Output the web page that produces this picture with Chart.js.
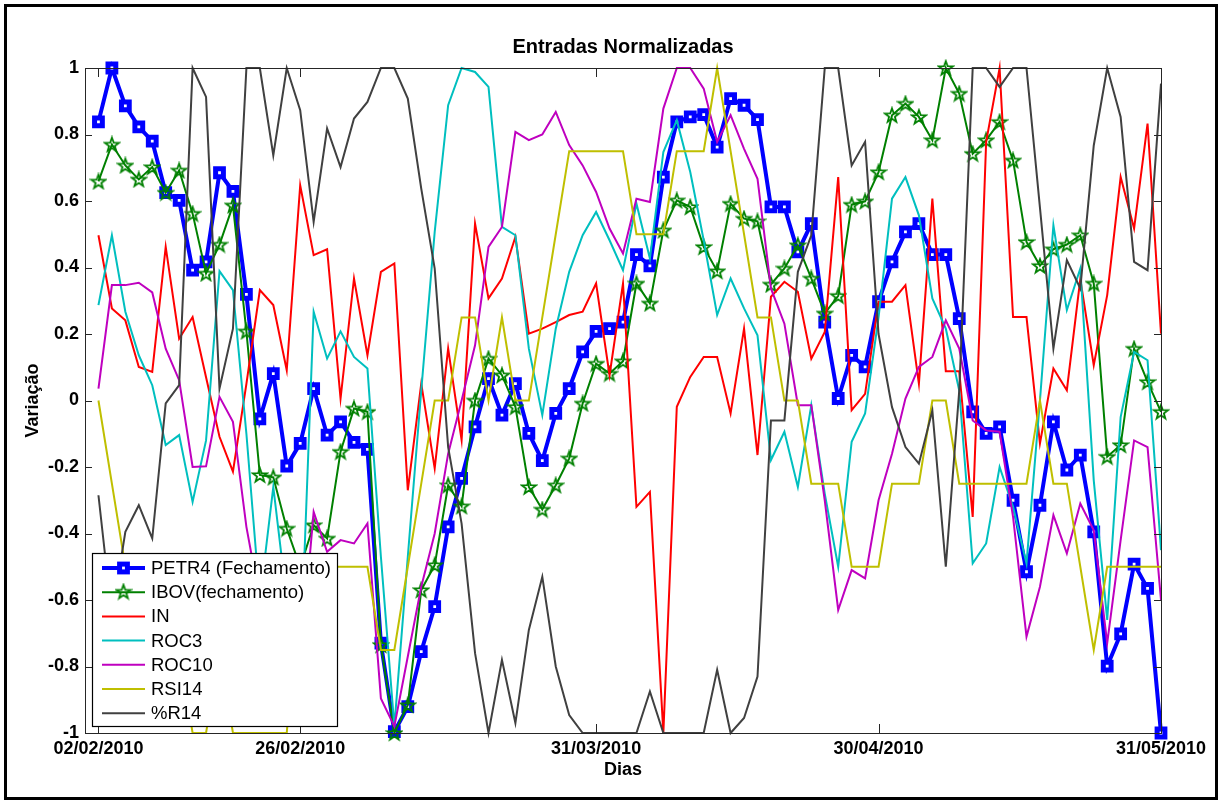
<!DOCTYPE html>
<html>
<head>
<meta charset="utf-8">
<title>Entradas Normalizadas</title>
<script src="https://cdn.jsdelivr.net/npm/chart.js@4.4.1/dist/chart.umd.min.js"></script>
<style>
  html, body { margin: 0; padding: 0; background: #fff; }
  canvas { display: block; }
</style>
</head>
<body>
<canvas id="entradas" width="1222" height="804"></canvas>
<script>
// x = dia de pregão (1..80), ticks with the dates shown on the axis
const tickDias = [1, 16, 38, 59, 80];
const tickLabels = ["02/02/2010", "26/02/2010", "31/03/2010", "30/04/2010", "31/05/2010"];
const yTicks = [-1, -0.8, -0.6, -0.4, -0.2, 0, 0.2, 0.4, 0.6, 0.8, 1];

const petr4 = [0.838, 1.0, 0.886, 0.823, 0.78, 0.625, 0.602, 0.392, 0.417, 0.685,
  0.629, 0.319, -0.055, 0.081, -0.197, -0.129, 0.036, -0.104, -0.064, -0.126,
  -0.147, -0.73, -0.996, -0.921, -0.755, -0.62, -0.38, -0.234, -0.079, 0.066,
  -0.044, 0.051, -0.099, -0.181, -0.039, 0.036, 0.146, 0.208, 0.216, 0.236,
  0.439, 0.405, 0.672, 0.838, 0.853, 0.86, 0.762, 0.908, 0.888, 0.845,
  0.582, 0.582, 0.447, 0.532, 0.236, 0.006, 0.136, 0.101, 0.297, 0.417,
  0.507, 0.532, 0.439, 0.439, 0.246, -0.034, -0.099, -0.079, -0.30, -0.515,
  -0.315, -0.064, -0.209, -0.164, -0.395, -0.799, -0.702, -0.492, -0.565, -1.0];

const ibov = [0.659, 0.77, 0.707, 0.665, 0.702, 0.625, 0.692, 0.562, 0.382, 0.469,
  0.587, 0.208, -0.224, -0.231, -0.385, -0.50, -0.375, -0.415, -0.154, -0.024,
  -0.034, -0.735, -1.0, -0.916, -0.57, -0.495, -0.255, -0.318, 0.0, 0.126,
  0.076, -0.019, -0.26, -0.328, -0.255, -0.174, -0.009, 0.111, 0.081, 0.118,
  0.352, 0.292, 0.512, 0.602, 0.582, 0.462, 0.389, 0.592, 0.547, 0.539,
  0.349, 0.397, 0.467, 0.367, 0.262, 0.315, 0.589, 0.599, 0.687, 0.858,
  0.893, 0.853, 0.783, 1.0, 0.923, 0.742, 0.783, 0.838, 0.722, 0.477,
  0.405, 0.455, 0.469, 0.497, 0.352, -0.169, -0.134, 0.156, 0.056, -0.034];

const inSerie = [0.497, 0.277, 0.241, 0.101, 0.086, 0.462, 0.186, 0.251, 0.07, -0.109,
  -0.214, 0.05, 0.332, 0.287, 0.091, 0.647, 0.437, 0.455, 0.006, 0.367,
  0.136, 0.387, 0.412, -0.27, 0.051, -0.204, 0.156, -0.119, 0.532, 0.307,
  0.367, 0.492, 0.201, 0.216, 0.236, 0.257, 0.267, 0.352, 0.076, 0.352,
  -0.32, -0.275, -1.0, -0.019, 0.071, 0.131, 0.131, -0.039, 0.216, -0.164,
  0.312, 0.357, 0.327, 0.126, 0.206, 0.672, -0.029, 0.02, 0.297, 0.297,
  0.347, 0.051, 0.607, 0.088, 0.088, -0.35, 0.778, 1.0, 0.251, 0.251,
  -0.129, 0.096, 0.031, 0.365, 0.106, 0.317, 0.672, 0.517, 0.833, 0.201];

const roc3 = [0.287, 0.497, 0.267, 0.136, 0.046, -0.134, -0.104, -0.305, -0.12, 0.389,
  0.332, -0.1, -0.6, -0.26, -0.6, -0.8, 0.267, 0.126, 0.208, 0.131,
  0.096, -0.47, -0.98, -0.47, 0.03, 0.507, 0.888, 1.0, 0.988, 0.943,
  0.522, 0.497, 0.156, -0.044, 0.216, 0.387, 0.497, 0.567, 0.482, 0.392,
  0.592, 0.427, 0.747, 0.843, 0.687, 0.482, 0.257, 0.367, 0.277, 0.196,
  -0.179, -0.094, -0.26, -0.014, -0.28, -0.5, -0.124, -0.039, 0.25, 0.607,
  0.672, 0.557, 0.307, 0.216, 0.03, -0.49, -0.43, -0.2, -0.32, -0.49,
  0.0, 0.527, 0.272, 0.397, -0.24, -0.66, -0.05, 0.146, 0.121, -0.45];

const roc10 = [0.036, 0.347, 0.347, 0.354, 0.325, 0.156, 0.061, -0.2, -0.198, 0.011,
  -0.064, -0.38, -0.6, -0.7, -0.75, -0.8, -0.335, -0.455, -0.42, -0.43,
  -0.37, -0.896, -0.98, -0.77, -0.56, -0.40, -0.16, 0.0, 0.166, 0.462,
  0.522, 0.808, 0.783, 0.80, 0.868, 0.768, 0.707, 0.627, 0.517, 0.442,
  0.607, 0.597, 0.878, 1.0, 1.0, 0.938, 0.778, 0.858, 0.757, 0.667,
  0.337, 0.231, -0.014, -0.014, -0.3, -0.63, -0.51, -0.535, -0.3, -0.16,
  0.006, 0.101, 0.131, 0.241, 0.156, -0.06, -0.09, -0.094, -0.35, -0.71,
  -0.56, -0.345, -0.46, -0.31, -0.39, -0.73, -0.42, -0.12, -0.14, -0.60];

const rsi14 = [0, -0.25, -0.5, -0.5, -0.5, -0.75, -0.75, -1, -1, -0.75,
  -1, -1, -1, -1, -1, -0.5, -0.5, -0.5, -0.5, -0.5,
  -0.5, -0.75, -0.75, -0.5, -0.25, 0, 0, 0.25, 0.25, 0,
  0.25, 0, 0, 0.25, 0.5, 0.75, 0.75, 0.75, 0.75, 0.75,
  0.5, 0.5, 0.5, 0.75, 0.75, 0.75, 1.0, 0.75, 0.5, 0.25,
  0.25, 0, 0, -0.25, -0.25, -0.25, -0.5, -0.5, -0.5, -0.25,
  -0.25, -0.25, 0, 0, -0.25, -0.25, -0.25, -0.25, -0.25, -0.25,
  0, -0.25, -0.25, -0.5, -0.75, -0.5, -0.5, -0.5, -0.5, -0.5];

const r14 = [-0.285, -0.65, -0.395, -0.315, -0.415, -0.009, 0.046, 1.0, 0.913, 0.036,
  0.216, 1.0, 1.0, 0.737, 1.0, 0.873, 0.537, 0.818, 0.702, 0.848,
  0.898, 1.0, 1.0, 0.908, 0.637, 0.397, -0.14, -0.37, -0.76, -1.0,
  -0.78, -0.97, -0.69, -0.53, -0.80, -0.946, -1.0, -1.0, -1.0, -1.0,
  -1.0, -0.875, -1.0, -1.0, -1.0, -1.0, -0.81, -1.0, -0.955, -0.83,
  -0.06, -0.06, 0.387, 0.497, 1.0, 1.0, 0.707, 0.778, 0.2, -0.02,
  -0.14, -0.19, -0.03, -0.5, 0.03, 1.0, 1.0, 0.943, 1.0, 1.0,
  0.58, 0.156, 0.422, 0.337, 0.767, 1.0, 0.853, 0.417, 0.392, 0.953];

const FONT = 'Arial, "Liberation Sans", Helvetica, sans-serif';

// MATLAB pentagram marker (outline only)
function makeStar(color) {
  const c = document.createElement("canvas");
  c.width = 18; c.height = 18;
  const g = c.getContext("2d");
  g.strokeStyle = color;
  g.lineWidth = 1.8;
  g.beginPath();
  for (let k = 0; k < 10; k++) {
    const r = k % 2 ? 3.0 : 7.4;
    const a = -Math.PI / 2 + k * Math.PI / 5;
    const px = 9 + r * Math.cos(a), py = 9.6 + r * Math.sin(a);
    if (k) g.lineTo(px, py); else g.moveTo(px, py);
  }
  g.closePath();
  g.stroke();
  return c;
}
const star = makeStar("#008000");

function pts(arr) {
  return arr.map((v, i) => ({ x: i + 1, y: v }));
}

function serie(label, arr, color, width, order) {
  return {
    label: label,
    data: pts(arr),
    borderColor: color,
    backgroundColor: color,
    borderWidth: width,
    pointRadius: 0,
    tension: 0,
    clip: false,
    order: order
  };
}

const datasets = [
  Object.assign(serie("PETR4 (Fechamento)", petr4, "#0000ff", 4, 6), {
    pointStyle: "rect", pointRadius: 5.5, pointBorderWidth: 5,
    pointBackgroundColor: "#ffffff", pointBorderColor: "#0000ff"
  }),
  Object.assign(serie("IBOV(fechamento)", ibov, "#008000", 2, 5), {
    pointStyle: star, pointRadius: 6
  }),
  serie("IN", inSerie, "#ff0000", 2, 4),
  serie("ROC3", roc3, "#00bfbf", 2, 3),
  serie("ROC10", roc10, "#bf00bf", 2, 2),
  serie("RSI14", rsi14, "#bfbf00", 2, 1),
  serie("%R14", r14, "#404040", 2, 0)
];

const matlabFrame = {
  id: "matlabFrame",
  beforeDraw(chart) {
    const ctx = chart.ctx;
    ctx.save();
    ctx.fillStyle = "#ffffff";
    ctx.fillRect(0, 0, chart.width, chart.height);
    ctx.restore();
  },
  afterDraw(chart) {
    const ctx = chart.ctx;
    const a = chart.chartArea;
    const xs = chart.scales.x, ys = chart.scales.y;
    ctx.save();

    // axes box + inward ticks on all sides
    ctx.strokeStyle = "#262626";
    ctx.lineWidth = 1;
    ctx.strokeRect(Math.round(a.left) + 0.5, Math.round(a.top) + 0.5,
      Math.round(a.right - a.left), Math.round(a.bottom - a.top));
    ctx.beginPath();
    tickDias.forEach(d => {
      const px = Math.round(xs.getPixelForValue(d)) + 0.5;
      ctx.moveTo(px, a.bottom); ctx.lineTo(px, a.bottom - 9);
      ctx.moveTo(px, a.top); ctx.lineTo(px, a.top + 9);
    });
    yTicks.forEach(v => {
      const py = Math.round(ys.getPixelForValue(v)) + 0.5;
      ctx.moveTo(a.left, py); ctx.lineTo(a.left + 7, py);
      ctx.moveTo(a.right, py); ctx.lineTo(a.right - 7, py);
    });
    ctx.stroke();

    // legend, south-west inside the axes
    const lx = 92.5, ly = 553.5, lw = 245, lh = 173;
    ctx.fillStyle = "#ffffff";
    ctx.fillRect(lx, ly, lw, lh);
    ctx.strokeStyle = "#000000";
    ctx.lineWidth = 1.2;
    ctx.strokeRect(lx, ly, lw, lh);
    ctx.font = "18.5px " + FONT;
    ctx.textBaseline = "middle";
    ctx.textAlign = "left";
    chart.data.datasets.forEach((ds, i) => {
      const yy = 568 + i * 24.2;
      ctx.strokeStyle = ds.borderColor;
      ctx.lineWidth = ds.borderWidth;
      ctx.beginPath();
      ctx.moveTo(102, yy); ctx.lineTo(145, yy);
      ctx.stroke();
      if (ds.pointStyle === "rect") {
        ctx.fillStyle = ds.pointBackgroundColor;
        ctx.lineWidth = ds.pointBorderWidth;
        ctx.strokeStyle = ds.pointBorderColor;
        ctx.fillRect(119.6, yy - 3.9, 7.8, 7.8);
        ctx.strokeRect(119.6, yy - 3.9, 7.8, 7.8);
      } else if (ds.pointStyle instanceof HTMLCanvasElement) {
        ctx.drawImage(ds.pointStyle, 123.5 - 9, yy - 9.6);
      }
      ctx.fillStyle = "#000000";
      ctx.fillText(ds.label, 151, yy + 1);
    });

    // title and axis labels
    ctx.fillStyle = "#000000";
    ctx.textAlign = "center";
    ctx.font = "bold 20px " + FONT;
    ctx.fillText("Entradas Normalizadas", (a.left + a.right) / 2, 47);
    ctx.font = "bold 18px " + FONT;
    ctx.fillText("Dias", (a.left + a.right) / 2, 770);
    ctx.save();
    ctx.translate(33, (a.top + a.bottom) / 2);
    ctx.rotate(-Math.PI / 2);
    ctx.fillText("Variação", 0, 0);
    ctx.restore();

    // figure border
    ctx.strokeStyle = "#000000";
    ctx.lineWidth = 3;
    ctx.strokeRect(5.5, 5.5, chart.width - 11, chart.height - 11);
    ctx.restore();
  }
};

Chart.defaults.font.family = FONT;
Chart.defaults.color = "#000000";

new Chart(document.getElementById("entradas"), {
  type: "line",
  data: { datasets: datasets },
  plugins: [matlabFrame],
  options: {
    responsive: false,
    devicePixelRatio: 1,
    animation: false,
    layout: { padding: { left: 0, right: 61, top: 68, bottom: 0 } },
    plugins: {
      legend: { display: false },
      title: { display: false },
      tooltip: { enabled: false }
    },
    scales: {
      x: {
        type: "linear",
        min: 0,
        max: 80,
        grid: { display: false, drawTicks: false },
        border: { display: false },
        afterFit: s => { s.height = 71; },
        afterBuildTicks: s => { s.ticks = tickDias.map(v => ({ value: v })); },
        ticks: {
          autoSkip: false,
          maxRotation: 0,
          padding: 5,
          font: { size: 18, weight: "bold" },
          callback: v => tickLabels[tickDias.indexOf(v)]
        }
      },
      y: {
        min: -1,
        max: 1,
        grid: { display: false, drawTicks: false },
        border: { display: false },
        afterFit: s => { s.width = 85; },
        afterBuildTicks: s => { s.ticks = yTicks.map(v => ({ value: v })); },
        ticks: {
          padding: 6,
          font: { size: 18, weight: "bold" },
          callback: v => String(Number(v.toFixed(1)))
        }
      }
    }
  }
});
</script>
</body>
</html>
